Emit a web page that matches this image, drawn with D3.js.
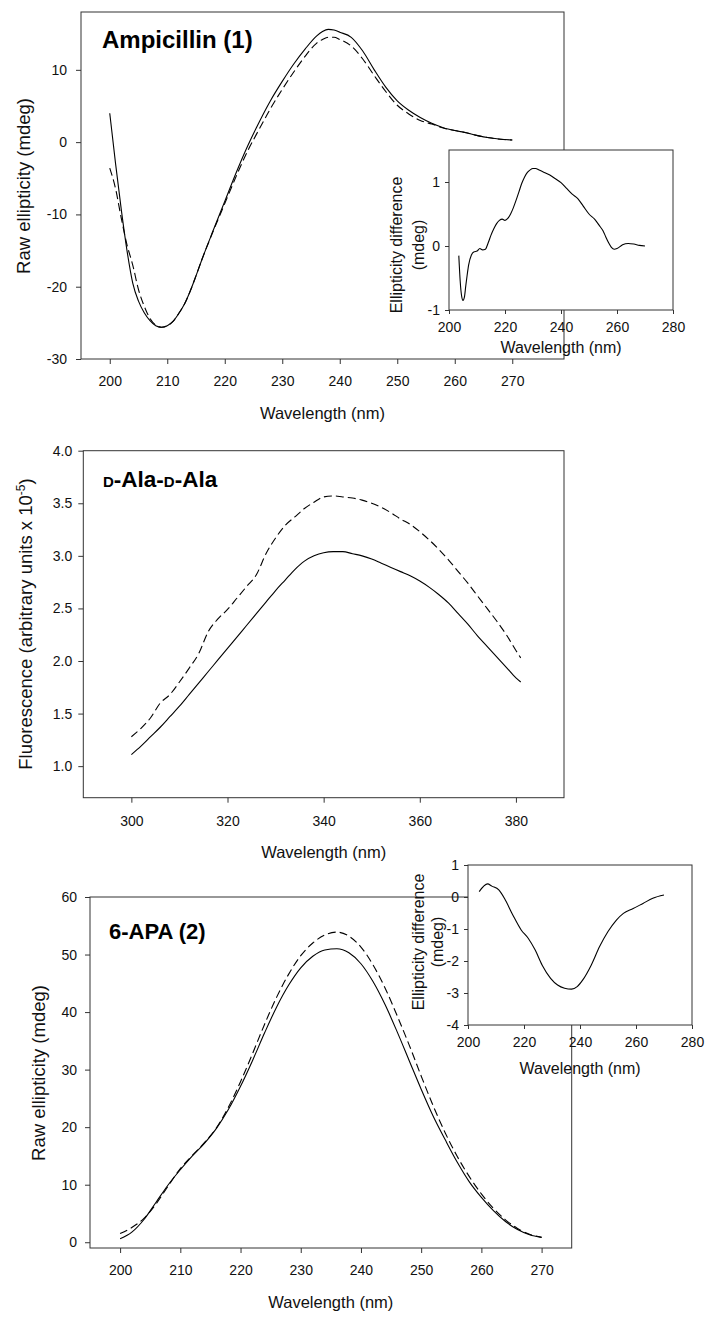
<!DOCTYPE html>
<html lang="en">
<head>
  <meta charset="UTF-8">
  <title>CD and fluorescence spectra</title>
  <style>
    body { margin: 0; background: #fff; }
    svg { display: block; font-family: "Liberation Sans", Arial, sans-serif; }
    .frame { fill: none; stroke: #333; stroke-width: 1; }
    .axis path { display: none; }
    .axis line { stroke: #333; }
    .axis text { font-size: 14px; fill: #111; font-family: "Liberation Sans", Arial, sans-serif; }
    .solid { fill: none; stroke: #000; stroke-width: 1.1; }
    .dashed { fill: none; stroke: #000; stroke-width: 1.1; stroke-dasharray: 8,4; }
    .lbl { font-size: 16.5px; fill: #111; }
    .ylbl { font-size: 18.5px; fill: #111; }
    .ilbl { font-size: 16px; fill: #111; }
    .title { font-weight: bold; fill: #000; }
  </style>
</head>
<body>
<svg id="chart" width="707" height="1317"></svg>

<script src="https://d3js.org/d3.v7.min.js"></script>
<script>
  // Ampicillin (1), raw ellipticity
  const ampWl = [200,201,202,203,204,205,206,207,208,209,210,211,212,213,214,215,216,218,220,222,224,226,228,230,232,234,236,237,238,239,240,242,244,246,248,250,252,254,256,258,260,262,264,266,268,270];
  const ampSolid = [4.0,-2.9,-9.3,-15.0,-19.5,-22.0,-23.6,-24.7,-25.4,-25.6,-25.4,-24.8,-23.7,-22.4,-20.6,-18.5,-16.3,-12.2,-8.2,-4.2,-0.5,2.8,5.8,8.4,10.8,12.9,14.7,15.3,15.6,15.5,15.2,14.5,12.6,10.0,7.6,5.7,4.4,3.4,2.6,2.0,1.6,1.3,0.9,0.6,0.4,0.3];
  const ampDashed = [-3.6,-6.4,-10.5,-14.2,-17.0,-20.4,-22.7,-24.4,-25.3,-25.6,-25.4,-24.8,-23.7,-22.4,-20.6,-18.5,-16.3,-12.3,-8.5,-4.7,-1.2,1.8,4.7,7.3,9.7,11.9,13.7,14.2,14.5,14.5,14.2,13.3,11.5,9.2,7.0,5.1,3.9,3.0,2.5,1.95,1.6,1.3,0.9,0.6,0.4,0.3];
  const ampDiffWl = [203.5,204,204.5,205,205.5,206,206.5,207,208,209,210,211,212,213,214,215,216,217,218,219,220,221,222,223,224,225,226,227,228,229,230,231,232,234,236,238,240,242,244,246,248,250,252,254,255,256,257,258,259,260,262,264,266,268,270];
  const ampDiff = [-0.15,-0.55,-0.78,-0.85,-0.8,-0.62,-0.45,-0.3,-0.14,-0.09,-0.08,-0.04,-0.06,-0.05,0.05,0.17,0.27,0.35,0.40,0.42,0.40,0.43,0.5,0.6,0.72,0.85,0.98,1.08,1.15,1.19,1.21,1.21,1.19,1.15,1.11,1.05,0.99,0.9,0.81,0.74,0.62,0.5,0.42,0.3,0.24,0.14,0.05,-0.02,-0.05,-0.04,0.02,0.04,0.03,0.01,0.0];

  // D-Ala-D-Ala, fluorescence
  const fluWl = [300,302,304,306,308,310,312,314,316,318,320,322,324,326,328,330,332,334,336,338,340,342,344,346,348,350,352,354,356,358,360,362,364,366,368,370,372,374,376,378,380,381];
  const fluSolid = [1.11,1.19,1.28,1.37,1.47,1.57,1.68,1.79,1.90,2.01,2.12,2.23,2.34,2.45,2.56,2.67,2.77,2.87,2.95,3.00,3.03,3.04,3.04,3.02,3.00,2.97,2.93,2.89,2.85,2.81,2.76,2.70,2.63,2.55,2.45,2.35,2.24,2.14,2.04,1.94,1.84,1.80];
  const fluDashed = [1.28,1.36,1.46,1.60,1.68,1.80,1.93,2.07,2.28,2.40,2.49,2.60,2.71,2.82,3.02,3.17,3.29,3.37,3.45,3.51,3.56,3.57,3.56,3.55,3.53,3.50,3.46,3.41,3.35,3.30,3.23,3.15,3.06,2.96,2.85,2.74,2.62,2.50,2.38,2.25,2.10,2.03];

  // 6-APA (2), raw ellipticity
  const apaWl = [200,202,204,206,208,210,212,214,216,218,220,222,224,226,228,230,232,234,236,238,240,242,244,246,248,250,252,254,256,258,260,262,264,266,268,270];
  const apaSolid = [0.6,1.8,4.0,7.0,10.0,12.6,15.0,17.2,19.8,23.1,27.1,31.6,36.4,40.9,44.7,47.7,49.7,50.8,51.0,50.3,48.4,45.3,41.3,36.6,31.6,26.6,21.9,17.8,13.9,10.5,7.8,5.5,3.6,2.2,1.3,0.85];
  const apaDashed = [1.5,2.6,4.2,6.7,9.8,12.8,15.1,17.3,19.9,23.5,27.9,32.8,37.9,42.6,46.6,49.8,52.0,53.4,53.9,53.2,51.3,48.2,44.2,39.4,34.3,28.9,23.7,19.0,14.9,11.4,8.4,5.9,3.9,2.4,1.4,0.85];
  const apaDiffWl = [204,207,208.5,211,213,216,219,221.5,224,226.5,229.5,232,234.5,237,239,241,244,247,250,253,255.5,259,262.5,266,270];
  const apaDiff = [0.17,0.41,0.34,0.22,-0.04,-0.56,-1.03,-1.29,-1.66,-2.13,-2.54,-2.75,-2.85,-2.88,-2.80,-2.59,-2.13,-1.55,-1.08,-0.72,-0.51,-0.36,-0.2,-0.04,0.06];

  // tick labels
  const ampXTicks = [200,210,220,230,240,250,260,270];
  const ampYTicks = [-30,-20,-10,0,10];
  const fluXTicks = [300,320,340,360,380];
  const fluYTicks = [1.0,1.5,2.0,2.5,3.0,3.5,4.0];
  const apaXTicks = [200,210,220,230,240,250,260,270];
  const apaYTicks = [0,10,20,30,40,50,60];
  const insetXTicks = [200,220,240,260,280];
  const ampDiffYTicks = [-1,0,1];
  const apaDiffYTicks = [-4,-3,-2,-1,0,1];

  const svg = d3.select('#chart');

  function panel(o) {
    const g = svg.append('g');
    const x = d3.scaleLinear().domain(o.xDomain).range([o.left, o.right]);
    const y = d3.scaleLinear().domain(o.yDomain).range([o.bottom, o.top]);

    if (o.inset) {
      g.append('rect')
        .attr('x', o.left).attr('y', o.top)
        .attr('width', o.right - o.left).attr('height', o.bottom - o.top)
        .attr('fill', '#fff');
    }

    g.append('g').attr('class', 'axis')
      .attr('transform', `translate(0,${o.bottom})`)
      .call(d3.axisBottom(x).tickValues(o.xTicks).tickSize(o.tick).tickPadding(o.xPad).tickFormat(d => String(d)));

    g.append('g').attr('class', 'axis')
      .attr('transform', `translate(${o.left},0)`)
      .call(d3.axisLeft(y).tickValues(o.yTicks).tickSize(o.tick).tickPadding(o.yPad).tickFormat(o.yFmt || (d => String(d))));

    const line = d3.line()
      .x(d => x(d[0]))
      .y(d => y(d[1]))
      .curve(d3.curveMonotoneX);

    o.series.forEach(s => {
      g.append('path')
        .attr('class', s.cls)
        .attr('d', line(d3.zip(s.wl, s.v)));
    });

    g.append('rect').attr('class', 'frame')
      .attr('x', o.left).attr('y', o.top)
      .attr('width', o.right - o.left).attr('height', o.bottom - o.top);

    return g;
  }

  function vText(cls, xb, yc, lines) {
    lines.forEach((t, i) => {
      svg.append('text').attr('class', cls)
        .attr('text-anchor', 'middle')
        .attr('transform', `translate(${xb[i]},${yc}) rotate(-90)`)
        .text(t);
    });
  }

  // ---- panel 1: Ampicillin
  panel({
    left: 81, right: 564, top: 12, bottom: 359,
    xDomain: [195, 279], yDomain: [-30, 18],
    xTicks: ampXTicks, yTicks: ampYTicks,
    tick: 5, xPad: 12.5, yPad: 9,
    series: [{ wl: ampWl, v: ampSolid, cls: 'solid' }, { wl: ampWl, v: ampDashed, cls: 'dashed' }]
  });
  svg.append('text').attr('class', 'title').attr('x', 102).attr('y', 48)
    .style('font-size', '24px').text('Ampicillin (1)');
  svg.append('text').attr('class', 'lbl').attr('text-anchor', 'middle')
    .attr('x', 322.5).attr('y', 419).text('Wavelength (nm)');
  vText('ylbl', [29.7], 186, ['Raw ellipticity (mdeg)']);

  panel({
    inset: true,
    left: 449, right: 673, top: 150, bottom: 310,
    xDomain: [200, 280], yDomain: [-1, 1.5],
    xTicks: insetXTicks, yTicks: ampDiffYTicks,
    tick: 4, xPad: 8, yPad: 5,
    series: [{ wl: ampDiffWl, v: ampDiff, cls: 'solid' }]
  });
  vText('ilbl', [401.5, 423.8], 245, ['Ellipticity difference', '(mdeg)']);
  svg.append('text').attr('class', 'ilbl').attr('text-anchor', 'middle')
    .attr('x', 561).attr('y', 353).text('Wavelength (nm)');

  // ---- panel 2: D-Ala-D-Ala
  panel({
    left: 83.3, right: 564, top: 450.7, bottom: 797.7,
    xDomain: [290, 390], yDomain: [0.7, 4.0],
    xTicks: fluXTicks, yTicks: fluYTicks,
    tick: 5, xPad: 13, yPad: 6, yFmt: d3.format('.1f'),
    series: [{ wl: fluWl, v: fluSolid, cls: 'solid' }, { wl: fluWl, v: fluDashed, cls: 'dashed' }]
  });
  const t2 = svg.append('text').attr('class', 'title').attr('x', 103).attr('y', 487)
    .style('font-size', '22.5px');
  t2.append('tspan').style('font-size', '15px').text('D');
  t2.append('tspan').text('-Ala-');
  t2.append('tspan').style('font-size', '15px').text('D');
  t2.append('tspan').text('-Ala');
  svg.append('text').attr('class', 'lbl').attr('text-anchor', 'middle')
    .attr('x', 323.7).attr('y', 858).text('Wavelength (nm)');
  const fy = svg.append('text').attr('class', 'ylbl').attr('text-anchor', 'middle')
    .attr('transform', 'translate(31.7,624) rotate(-90)');
  fy.append('tspan').text('Fluorescence (arbitrary units x 10');
  fy.append('tspan').attr('dy', -7).style('font-size', '12px').text('-5');
  fy.append('tspan').attr('dy', 7).text(')');

  // ---- panel 3: 6-APA
  panel({
    left: 90, right: 571.7, top: 897, bottom: 1248,
    xDomain: [195, 275], yDomain: [-1, 60],
    xTicks: apaXTicks, yTicks: apaYTicks,
    tick: 5, xPad: 12.5, yPad: 8,
    series: [{ wl: apaWl, v: apaSolid, cls: 'solid' }, { wl: apaWl, v: apaDashed, cls: 'dashed' }]
  });
  svg.append('text').attr('class', 'title').attr('x', 109).attr('y', 939)
    .style('font-size', '22px').text('6-APA (2)');
  svg.append('text').attr('class', 'lbl').attr('text-anchor', 'middle')
    .attr('x', 330.8).attr('y', 1308).text('Wavelength (nm)');
  vText('ylbl', [44.7], 1073, ['Raw ellipticity (mdeg)']);

  panel({
    inset: true,
    left: 468, right: 692, top: 865, bottom: 1025,
    xDomain: [200, 280], yDomain: [-4, 1],
    xTicks: insetXTicks, yTicks: apaDiffYTicks,
    tick: 4, xPad: 8, yPad: 5,
    series: [{ wl: apaDiffWl, v: apaDiff, cls: 'solid' }]
  });
  vText('ilbl', [424, 443], 942, ['Ellipticity difference', '(mdeg)']);
  svg.append('text').attr('class', 'ilbl').attr('text-anchor', 'middle')
    .attr('x', 580).attr('y', 1074).text('Wavelength (nm)');
</script>
</body>
</html>
